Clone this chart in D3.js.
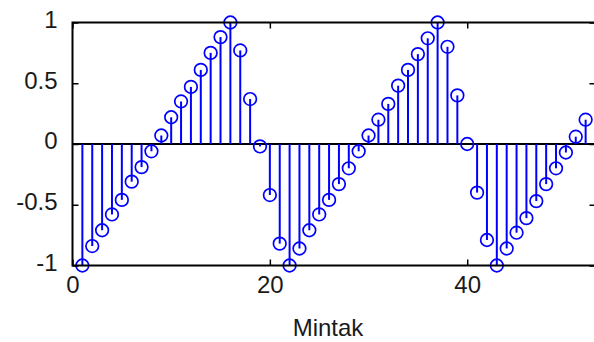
<!DOCTYPE html>
<html>
<head>
<meta charset="utf-8">
<script src="https://cdn.jsdelivr.net/npm/d3@7"></script>
<style>
  html, body { margin: 0; padding: 0; background: #fff; }
  svg { display: block; }
  text { font-family: "Liberation Sans", Arial, sans-serif; fill: #1a1a1a; }
</style>
</head>
<body>
<div id="graph"></div>
<script>
// sample index and signal value
const samples = d3.range(1, 53);
const values = [
  -1.00, -0.84, -0.71, -0.58, -0.46, -0.31, -0.19, -0.06, 0.07, 0.22,
   0.35,  0.47,  0.61,  0.75,  0.88,  1.00,  0.77,  0.37, -0.02, -0.42,
  -0.82, -1.00, -0.86, -0.71, -0.58, -0.46, -0.33, -0.20, -0.06, 0.07,
   0.20,  0.33,  0.48,  0.61,  0.74,  0.87,  1.00,  0.80,  0.40, 0.00,
  -0.40, -0.79, -1.00, -0.86, -0.73, -0.61, -0.47, -0.33, -0.20, -0.07,
   0.06,  0.20
];
const xTicks = [0, 20, 40];
const yTicks = [-1, -0.5, 0, 0.5, 1];
const xLabel = "Mintak";

window.addEventListener("DOMContentLoaded", main)

function main() {
    const W = 594, H = 342;
    const L = 72.5, R = 595.5, T = 22.5, B = 265.5;

    const svg = d3.select("#graph").append("svg").attr("width", W).attr("height", H)

    const x = d3.scaleLinear().domain([0, 53]).range([L, R]);
    const y = d3.scaleLinear().domain([-1, 1]).range([B, T]);

    const data = samples.map((s, i) => ({ s: s, v: values[i] }));

    /* zero baseline */
    svg.append("line")
        .attr("x1", L).attr("x2", R)
        .attr("y1", y(0)).attr("y2", y(0))
        .attr("stroke", "#000").attr("stroke-width", 2);

    /* stems */
    svg.append("g").selectAll("line")
        .data(data).enter().append("line")
        .attr("x1", d => x(d.s)).attr("x2", d => x(d.s))
        .attr("y1", y(0)).attr("y2", d => y(d.v))
        .attr("stroke", "#0000ff").attr("stroke-width", 2);

    /* circles */
    svg.append("g").selectAll("circle")
        .data(data).enter().append("circle")
        .attr("cx", d => x(d.s)).attr("cy", d => y(d.v))
        .attr("r", 6.3)
        .attr("fill", "none")
        .attr("stroke", "#0000ff").attr("stroke-width", 1.7);

    /* axes, MATLAB style ticks pointing inwards */
    const xAxis = svg.append("g")
        .attr("transform", "translate(0," + B + ")")
        .call(d3.axisBottom(x).tickValues(xTicks).tickSizeInner(-6).tickSizeOuter(0).tickPadding(10).tickFormat(d3.format("d")));
    const yAxis = svg.append("g")
        .attr("transform", "translate(" + L + ",0)")
        .call(d3.axisLeft(y).tickValues(yTicks).tickSizeInner(-6).tickSizeOuter(0).tickPadding(15).tickFormat(d => String(d)));
    svg.append("g")
        .attr("transform", "translate(0," + T + ")")
        .call(d3.axisTop(x).tickValues(xTicks).tickSizeInner(-6).tickSizeOuter(0).tickFormat(""));
    svg.append("g")
        .attr("transform", "translate(" + R + ",0)")
        .call(d3.axisRight(y).tickValues(yTicks).tickSizeInner(-6).tickSizeOuter(0).tickFormat(""));

    svg.selectAll(".domain").remove();
    svg.selectAll(".tick line").attr("stroke", "#000").attr("stroke-width", 1.5);
    svg.selectAll(".tick text").style("font-size", "24px").attr("fill", "#1a1a1a");
    yAxis.selectAll(".tick text").attr("dy", "0.2em");
    xAxis.selectAll(".tick text").attr("dy", "0.72em");

    /* box */
    svg.append("rect")
        .attr("x", L).attr("y", T)
        .attr("width", R - L).attr("height", B - T)
        .attr("fill", "none").attr("stroke", "#000").attr("stroke-width", 2);

    svg.append("text")
        .attr("x", 328).attr("y", 336)
        .attr("text-anchor", "middle")
        .style("font-size", "24px")
        .text(xLabel);
}
</script>
</body>
</html>
